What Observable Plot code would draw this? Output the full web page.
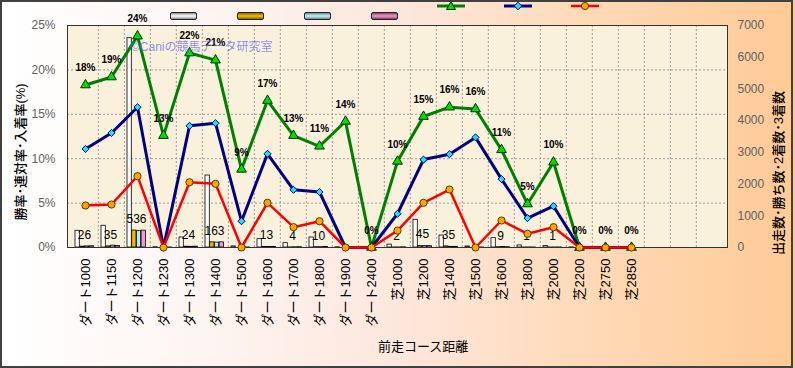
<!DOCTYPE html>
<html><head><meta charset="utf-8">
<script src="https://cdn.jsdelivr.net/npm/d3@7"></script>
<script src="https://cdn.jsdelivr.net/npm/@observablehq/plot@0.6"></script>
<style>
body{margin:0;background:#fff;}
#wrap{position:relative;width:795px;height:368px;overflow:hidden;background:linear-gradient(90deg,#ffffff 0%,#fdf5f2 25%,#fde7dc 50%,#ffd9b6 75%,#ffca95 100%);font-family:"Liberation Sans","Noto Sans CJK JP",sans-serif;}
#wrap svg{position:absolute;left:0;top:0;}
#border{position:absolute;left:0;top:0;width:793px;height:368px;border:2px solid #404040;box-sizing:border-box;pointer-events:none;}
.sw{position:absolute;top:12px;width:27px;height:8px;border:1px solid #222;border-radius:2px;box-sizing:border-box;}
.lg{position:absolute;top:10px;}
.rot{position:absolute;transform:translate(-50%,-50%) rotate(-90deg);white-space:nowrap;color:#000;}
.t{position:absolute;white-space:nowrap;}
</style></head>
<body>
<div id="wrap">
  <div class="sw" style="left:170px;background:linear-gradient(#8c8c8c,#ffffff 50%,#8c8c8c)"></div>
  <div class="sw" style="left:237px;background:linear-gradient(#8a6200,#f5c000 50%,#8a6200)"></div>
  <div class="sw" style="left:304px;background:linear-gradient(#5f8f92,#c8f4f6 50%,#5f8f92)"></div>
  <div class="sw" style="left:371px;background:linear-gradient(#8a3d66,#f49ad0 50%,#8a3d66)"></div>
  <svg class="lg" style="left:437px" width="28" height="12"><line x1="0" x2="28" y1="6" y2="6" stroke="#008000" stroke-width="3"/><path d="M14,1.5 L18.5,9.5 L9.5,9.5 Z" fill="#00dd00" stroke="#003300" stroke-width="1"/></svg>
  <svg class="lg" style="left:504px" width="28" height="12"><line x1="0" x2="28" y1="6" y2="6" stroke="#000080" stroke-width="3"/><path d="M14,2.2 L17.8,6 L14,9.8 L10.2,6 Z" fill="#22e0f0" stroke="#000080" stroke-width="1"/></svg>
  <svg class="lg" style="left:571px" width="28" height="12"><line x1="0" x2="28" y1="6" y2="6" stroke="#ff0000" stroke-width="2.5"/><circle cx="14" cy="6" r="3.6" fill="#ffa500" stroke="#5a3a00" stroke-width="1"/></svg>
  <div id="chart"></div>
  <div class="t" style="left:131px;top:37px;font-size:12px;color:rgba(100,110,240,0.75)">©Caniの競馬データ研究室</div>
  <div class="rot" style="left:19px;top:152px;font-size:13px;font-weight:500">勝率･連対率･入着率(%)</div>
  <div class="rot" style="left:777px;top:173px;font-size:13px;font-weight:500">出走数･勝ち数･2着数･3着数</div>
  <div class="t" style="left:378px;top:336px;font-size:13px;color:#000">前走コース距離</div>
  <div id="border"></div>
</div>
<script>
// categories (previous race course & distance)
const cats = ["ダート1000","ダート1150","ダート1200","ダート1230","ダート1300","ダート1400","ダート1500","ダート1600","ダート1700","ダート1800","ダート1900","ダート2400","芝1000","芝1200","芝1400","芝1500","芝1600","芝1800","芝2000","芝2200","芝2750","芝2850"];
const emptySlots = ["", " ", "  "];
// rates (%)
const placeRate    = [18.3, 19.2, 23.8, 12.6, 21.9, 21.1, 8.8, 16.55, 12.6, 11.4, 14.2, 0, 9.7, 14.75, 15.8, 15.6, 11.0, 4.9, 9.6, 0, 0, 0];
const quinellaRate = [11.1, 12.9, 15.8, 0, 13.7, 14.0, 2.96, 10.55, 6.5, 6.25, 0, 0, 3.8, 9.9, 10.5, 12.4, 7.7, 3.3, 4.65, 0, 0, 0];
const winRate      = [4.73, 4.84, 8.03, 0, 7.35, 7.17, 0, 5.03, 2.29, 2.96, 0, 0, 1.9, 5.03, 6.53, 0, 3.04, 1.54, 2.29, 0, 0, 0];
// counts
const starts  = [527, 685, 6600, 8, 315, 2270, 34, 263, 137, 315, 7, 3, 90, 874, 378, 32, 295, 65, 44, 4, 1, 1];
const wins    = [26, 35, 536, 0, 24, 163, 0, 13, 4, 10, 0, 0, 2, 45, 35, 0, 9, 1, 1, 0, 0, 0];
const seconds = [35, 58, 515, 0, 21, 155, 1, 14, 7, 11, 0, 0, 2, 43, 15, 4, 14, 1, 1, 0, 0, 0];
const thirds  = [40, 46, 532, 1, 26, 162, 2, 16, 10, 17, 1, 0, 6, 43, 20, 1, 10, 1, 2, 0, 0, 0];
const rightTicks = [0, 1000, 2000, 3000, 4000, 5000, 6000, 7000];
const leftTicks = [0, 5, 10, 15, 20, 25];

const RMAX = 7000, LMAX = 25;
const toPct = v => v * LMAX / RMAX;
const allX = [...cats, ...emptySlots];
const bw = 660 / allX.length;

const rows = cats.map((c, i) => ({c, starts: starts[i], wins: wins[i], seconds: seconds[i], thirds: thirds[i],
  place: placeRate[i], quin: quinellaRate[i], win: winRate[i]}));

const bw0 = 3, bwBar = 4.7;
const bar = (key, fill, k) => Plot.barY(rows, {x: "c", y: d => toPct(d[key]), fill, stroke: "#000", strokeWidth: 0.8,
  insetLeft: bw0 + bwBar * k, insetRight: bw - bw0 - bwBar * (k + 1)});

const chart = Plot.plot({
  width: 795, height: 368,
  marginLeft: 67, marginRight: 68, marginTop: 25, marginBottom: 121,
  style: {background: "transparent", color: "#000", fontFamily: "'Liberation Sans','Noto Sans CJK JP',sans-serif"},
  x: {type: "band", domain: allX, padding: 0},
  y: {domain: [0, LMAX]},
  marks: [
    Plot.frame({fill: "#faf1dd", stroke: "none"}),
    Plot.gridY([5, 10, 15, 20, 25], {stroke: "#9a9a9a", strokeOpacity: 1, strokeDasharray: "2,2"}),
    Plot.ruleX(allX.slice(1), {x: d => d, dx: -bw / 2, stroke: "#9a9a9a", strokeDasharray: "2,2"}),
    bar("starts", "#ffffff", 0),
    bar("wins", "#eeb400", 1),
    bar("seconds", "#b4ecef", 2),
    bar("thirds", "#f39ad0", 3),
    Plot.frame({stroke: "#333", fill: "none"}),
    Plot.axisY(leftTicks, {anchor: "left", tickFormat: d => d + "%", tickSize: 0, tickPadding: 12, fontSize: 12, fill: "#606060", label: null}),
    Plot.axisY(rightTicks.map(toPct), {anchor: "right", tickFormat: d => String(Math.round(d * RMAX / LMAX)), tickSize: 0, tickPadding: 10, fontSize: 12, fill: "#606060", label: null}),
    Plot.axisX(cats, {tickRotate: -90, tickSize: 0, tickPadding: 11, fontSize: 13, fill: "#000", label: null}),
    Plot.text(rows.filter(d => d.wins > 0), {x: "c", y: d => toPct(d.wins), text: d => String(d.wins), dy: -11.5, dx: -1, fontSize: 12, fill: "#000"}),
    Plot.line(rows, {x: "c", y: "place", stroke: "#008000", strokeWidth: 3}),
    Plot.dot(rows, {x: "c", y: "place", symbol: "triangle", r: 3.6, fill: "#00dd00", stroke: "#003300", strokeWidth: 1}),
    Plot.line(rows, {x: "c", y: "quin", stroke: "#000080", strokeWidth: 3}),
    Plot.dot(rows, {x: "c", y: "quin", symbol: "diamond2", r: 3.2, fill: "#22e0f0", stroke: "#000080", strokeWidth: 1}),
    Plot.line(rows, {x: "c", y: "win", stroke: "#ff0000", strokeWidth: 2.5}),
    Plot.dot(rows, {x: "c", y: "win", r: 3.6, fill: "#ffa500", stroke: "#5a3a00", strokeWidth: 1}),
    Plot.text(rows, {x: "c", y: "place", text: d => Math.round(d.place) + "%", dy: -17, fontSize: 10, fontWeight: "bold", fill: "#000"})
  ]
});
document.getElementById("chart").appendChild(chart);
</script>
</body></html>
